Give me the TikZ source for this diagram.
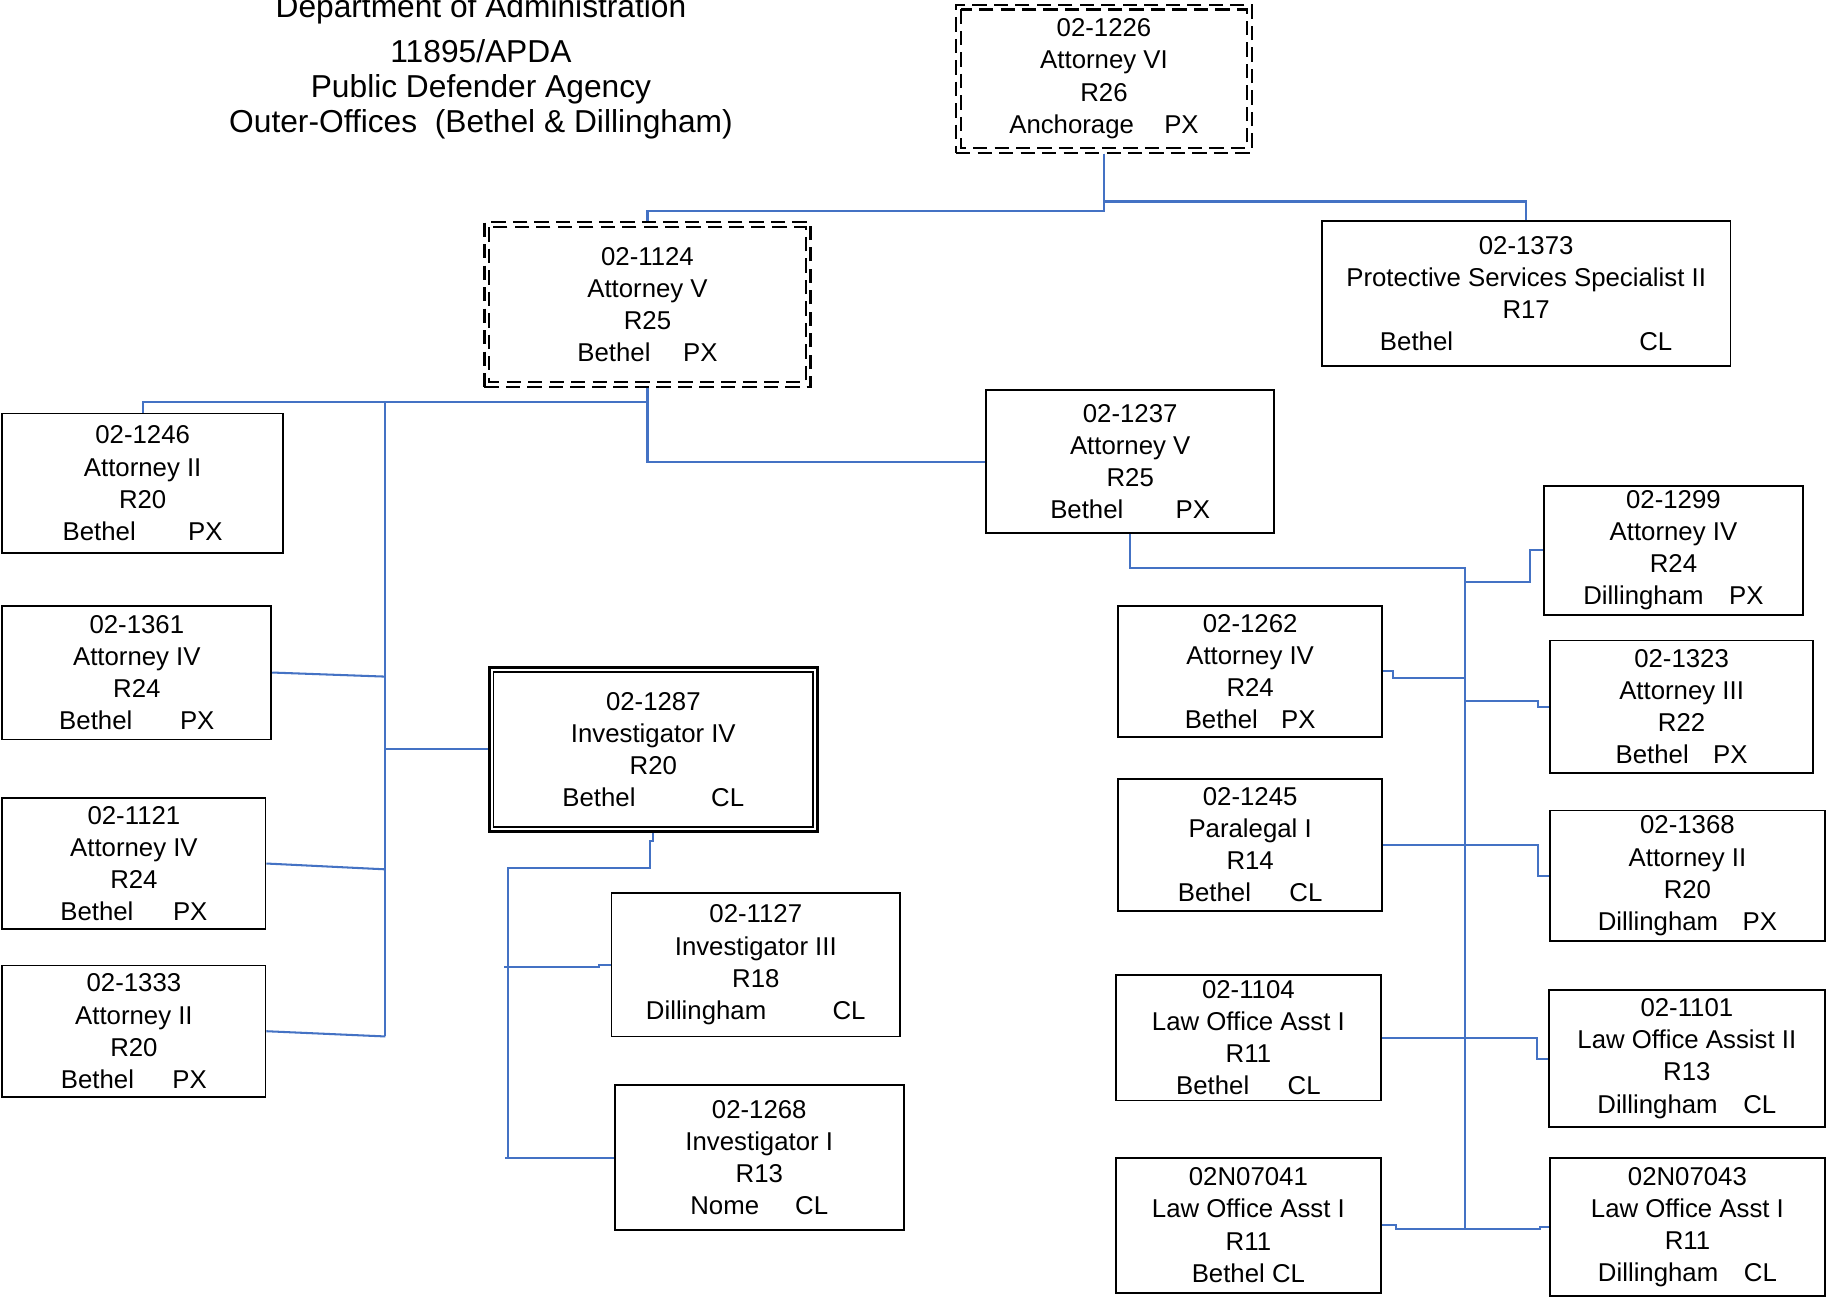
\documentclass[tikz,border=0pt]{standalone}
\usepackage{fontspec}
\setmainfont{Liberation Sans}
\begin{document}
\begin{tikzpicture}[x=0.02cm,y=-0.02cm,
  box/.style={draw=black, line width=0.9pt, inner sep=0pt, align=center,
    font=\fontsize{12.6}{15.7}\selectfont},
  dbox/.style={box, line width=1pt, dash pattern=on 7pt off 3.5pt},
  innerdash/.style={draw=black, line width=1pt, dash pattern=on 7pt off 3.5pt},
  conn/.style={draw={rgb,255:red,68;green,114;blue,196}, line width=1pt},
  title/.style={align=center, inner sep=0pt, font=\fontsize{15.5}{17.1}\selectfont}
]
\useasboundingbox[fill=white] (0,0) rectangle (1568,1116.4);

% title
\node[title] (title1) at (413,8) {Department of Administration};
\node[title] (title) at (413,76.5) {11895/APDA\\Public Defender Agency\\Outer-Offices\ \ (Bethel \& Dillingham)};

% top level
\node[dbox, minimum width=5.08cm, minimum height=2.54cm] (n1226) at (948,67.5)
  {02-1226\\Attorney VI\\R26\\Anchorage\hspace{0.52cm}PX};
\draw[innerdash] ([shift={(5,5)}]n1226.north west) rectangle ([shift={(-5,-5)}]n1226.south east);

\node[dbox, minimum width=5.6cm, minimum height=2.82cm] (n1124) at (556,261.5)
  {02-1124\\Attorney V\\R25\\Bethel\hspace{0.56cm}PX};
\draw[innerdash] ([shift={(5,5)}]n1124.north west) rectangle ([shift={(-5,-5)}]n1124.south east);

\node[box, minimum width=7.02cm, minimum height=2.48cm] (n1373) at (1310.5,252)
  {02-1373\\Protective Services Specialist II\\R17\\Bethel\hspace{3.2cm}CL};

\node[box, minimum width=4.94cm, minimum height=2.46cm] (n1237) at (970.5,396.5)
  {02-1237\\Attorney V\\R25\\Bethel\hspace{0.9cm}PX};

% left column
\node[box, minimum width=4.82cm, minimum height=2.4cm] (n1246) at (122.5,415)
  {02-1246\\Attorney II\\R20\\Bethel\hspace{0.9cm}PX};
\node[box, minimum width=4.62cm, minimum height=2.3cm] (n1361) at (117.5,577.5)
  {02-1361\\Attorney IV\\R24\\Bethel\hspace{0.82cm}PX};
\node[box, minimum width=4.52cm, minimum height=2.26cm] (n1121) at (115,741.5)
  {02-1121\\Attorney IV\\R24\\Bethel\hspace{0.68cm}PX};
\node[box, minimum width=4.52cm, minimum height=2.26cm] (n1333) at (115,885.5)
  {02-1333\\Attorney II\\R20\\Bethel\hspace{0.66cm}PX};

% investigators
\node[box, line width=1.4pt, minimum width=5.64cm, minimum height=2.82cm] (n1287) at (561,643.5)
  {02-1287\\Investigator IV\\R20\\Bethel\hspace{1.3cm}CL};
\draw[line width=0.8pt] ([shift={(5,5)}]n1287.north west) rectangle ([shift={(-5,-5)}]n1287.south east);
\node[box, minimum width=4.96cm, minimum height=2.46cm] (n1127) at (649,828.5)
  {02-1127\\Investigator III\\R18\\Dillingham\hspace{1.14cm}CL};
\node[box, minimum width=4.96cm, minimum height=2.48cm] (n1268) at (652,994)
  {02-1268\\Investigator I\\R13\\Nome\hspace{0.62cm}CL};

% right side
\node[box, minimum width=4.44cm, minimum height=2.22cm] (n1299) at (1437,472.5)
  {02-1299\\Attorney IV\\R24\\Dillingham\hspace{0.44cm}PX};
\node[box, minimum width=4.54cm, minimum height=2.26cm] (n1262) at (1073.5,576.5)
  {02-1262\\Attorney IV\\R24\\Bethel\hspace{0.4cm}PX};
\node[box, minimum width=4.52cm, minimum height=2.28cm] (n1323) at (1444,607)
  {02-1323\\Attorney III\\R22\\Bethel\hspace{0.42cm}PX};
\node[box, minimum width=4.54cm, minimum height=2.26cm] (n1245) at (1073.5,725.5)
  {02-1245\\Paralegal I\\R14\\Bethel\hspace{0.66cm}CL};
\node[box, minimum width=4.72cm, minimum height=2.24cm] (n1368) at (1449,752)
  {02-1368\\Attorney II\\R20\\Dillingham\hspace{0.42cm}PX};
\node[box, minimum width=4.56cm, minimum height=2.16cm] (n1104) at (1072,891)
  {02-1104\\Law Office Asst I\\R11\\Bethel\hspace{0.66cm}CL};
\node[box, minimum width=4.74cm, minimum height=2.36cm] (n1101) at (1448.5,909)
  {02-1101\\Law Office Assist II\\R13\\Dillingham\hspace{0.44cm}CL};
\node[box, minimum width=4.56cm, minimum height=2.32cm] (n041) at (1072,1052)
  {02N07041\\Law Office Asst I\\R11\\Bethel CL};
\node[box, minimum width=4.72cm, minimum height=2.38cm] (n043) at (1449,1053.5)
  {02N07043\\Law Office Asst I\\R11\\Dillingham\hspace{0.44cm}CL};

% connectors: top
\draw[conn] (n1226.south) -- (948,181) -| (n1124.north);
\draw[conn] (n1226.south) -- (948,173) -| (n1373.north);
\draw[conn] (n1124.south) |- (n1237.west);
\draw[conn] (n1124.south) -- (556,345) -| (n1246.north);

% left spine
\coordinate (sL1) at (331,345);
\coordinate (sL2) at (331,890);
\draw[conn] (sL1) -- (sL2);
\draw[conn] (n1361.east) -- (331,581);
\draw[conn] (n1287.west) -- (331,643.5);
\draw[conn] (n1121.east) -- (331,746.5);
\draw[conn] (n1333.east) -- (sL2);

% investigator spine
\draw[conn] (n1287.south) -- (561,722) -- (558,722) -- (558,745) -- (436,745) -- (436,994) -- (n1268.west);
\draw[conn] (434,994) -- (436,994);
\draw[conn] (433,830) -- (514,830) -- (514,828.5) -- (n1127.west);

% right spine
\coordinate (sR1) at (1258,488);
\coordinate (sR2) at (1258,1055);
\draw[conn] (n1237.south) |- (sR1) -- (sR2);
\draw[conn] (1258,500) -- (1314,500) -- (1314,472.5) -- (n1299.west);
\draw[conn] (n1262.east) -- (1196,576.5) -- (1196,582) -- (1258,582);
\draw[conn] (1258,602) -- (1321,602) -- (1321,607) -- (n1323.west);
\draw[conn] (n1245.east) -- (1321,725.5) -- (1321,752) -- (n1368.west);
\draw[conn] (n1104.east) -- (1320,891) -- (1320,909) -- (n1101.west);
\draw[conn] (n041.east) -- (1199,1052) -- (1199,1055) -- (1322,1055) -- (1322,1053.5) -- (n043.west);
\end{tikzpicture}
\end{document}
